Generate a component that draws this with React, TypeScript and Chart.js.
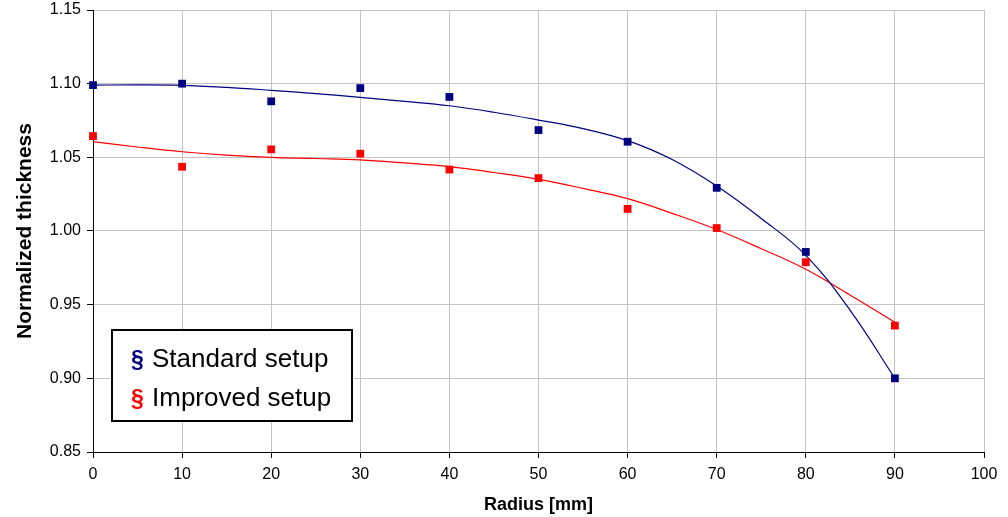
import React, { useEffect, useRef } from "react";
import { Chart, registerables } from "chart.js";

Chart.register(...registerables);

// Measured thickness profiles (radius in mm)
const radius = [0, 10, 20, 30, 40, 50, 60, 70, 80, 90];
const standardMeasured = [1.099, 1.1, 1.088, 1.097, 1.091, 1.0685, 1.0606, 1.0293, 0.9858, 0.9];
const improvedMeasured = [1.0644, 1.0436, 1.0554, 1.0525, 1.0417, 1.0359, 1.015, 1.002, 0.9788, 0.9358];

// Fitted trend curves, sampled every 5 mm
const trendRadius = [0, 5, 10, 15, 20, 25, 30, 35, 40, 45, 50, 55, 60, 65, 70, 75, 80, 85, 90];
const standardTrend = [
  1.099, 1.0992, 1.0989, 1.0975, 1.0955, 1.0933, 1.0907, 1.088, 1.085, 1.0806,
  1.0753, 1.0695, 1.0613, 1.0485, 1.0305, 1.0085, 0.9835, 0.946, 0.9,
];
const improvedTrend = [
  1.0606, 1.057, 1.0538, 1.0515, 1.05, 1.0492, 1.0483, 1.0462, 1.0437, 1.0397,
  1.035, 1.0289, 1.022, 1.012, 1.001, 0.988, 0.974, 0.9564, 0.938,
];

const seriesNames = ["Standard setup", "Improved setup"];
const seriesColors = ["#000080", "#ff0000"];

const xTicks = [0, 10, 20, 30, 40, 50, 60, 70, 80, 90, 100];
const yTicks = [0.85, 0.9, 0.95, 1.0, 1.05, 1.1, 1.15];

const FONT = "'Liberation Sans', Arial, Helvetica, sans-serif";

const pairs = (xs: number[], ys: number[]) => xs.map((x, i) => ({ x, y: ys[i] }));

const boxLegend = {
  id: "boxLegend",
  afterDraw(chart: any) {
    const ctx = chart.ctx as CanvasRenderingContext2D;
    const area = chart.chartArea;
    const left = area.left + 19;
    const top = area.top + 320;
    const w = 240;
    const h = 91;
    ctx.save();
    ctx.fillStyle = "#ffffff";
    ctx.fillRect(left, top, w, h);
    ctx.strokeStyle = "#000000";
    ctx.lineWidth = 2;
    ctx.strokeRect(left, top, w, h);
    ctx.textBaseline = "alphabetic";
    seriesNames.forEach((name, i) => {
      const base = top + 37 + i * 38.5;
      ctx.fillStyle = seriesColors[i];
      ctx.font = `bold 23px ${FONT}`;
      ctx.fillText("§", left + 19, base);
      ctx.fillStyle = "#000000";
      ctx.font = `26px ${FONT}`;
      ctx.fillText(name, left + 40, base);
    });
    ctx.restore();
  },
};

export default function App() {
  const ref = useRef<HTMLCanvasElement | null>(null);

  useEffect(() => {
    if (!ref.current) return;
    const chart = new Chart(ref.current, {
      type: "scatter",
      data: {
        datasets: [
          {
            label: seriesNames[0],
            data: pairs(radius, standardMeasured),
            backgroundColor: seriesColors[0],
            borderColor: seriesColors[0],
            pointStyle: "rect",
            pointRadius: 5.5,
            pointBorderWidth: 0,
            showLine: false,
            clip: false,
          },
          {
            label: seriesNames[1],
            data: pairs(radius, improvedMeasured),
            backgroundColor: seriesColors[1],
            borderColor: seriesColors[1],
            pointStyle: "rect",
            pointRadius: 5.5,
            pointBorderWidth: 0,
            showLine: false,
            clip: false,
          },
          {
            label: seriesNames[0] + " trend",
            data: pairs(trendRadius, standardTrend),
            borderColor: seriesColors[0],
            borderWidth: 1.2,
            pointRadius: 0,
            showLine: true,
            tension: 0.4,
          },
          {
            label: seriesNames[1] + " trend",
            data: pairs(trendRadius, improvedTrend),
            borderColor: seriesColors[1],
            borderWidth: 1.2,
            pointRadius: 0,
            showLine: true,
            tension: 0.4,
          },
        ],
      },
      options: {
        animation: false,
        responsive: true,
        maintainAspectRatio: false,
        layout: { padding: { top: 10, right: 24, left: 0, bottom: 0 } },
        plugins: {
          legend: { display: false },
          tooltip: { enabled: false },
        },
        scales: {
          x: {
            type: "linear",
            min: 0,
            max: 100,
            afterFit: (s: any) => {
              s.height = 65;
              s.paddingLeft = 0;
              s.paddingRight = 0;
            },
            afterBuildTicks: (s: any) => {
              s.ticks = xTicks.map((v) => ({ value: v }));
            },
            ticks: {
              color: "#000",
              font: { family: FONT, size: 16 },
              padding: 7,
              maxRotation: 0,
              callback: (v: any) => String(v),
            },
            grid: {
              color: "#c4c4c4",
              tickColor: "#000",
              tickLength: 6,
              lineWidth: 1,
            },
            border: { color: "#000", width: 1 },
            title: {
              display: true,
              text: "Radius [mm]",
              color: "#000",
              font: { family: FONT, size: 18, weight: "bold" },
              padding: { top: 0, bottom: 1 },
            },
          },
          y: {
            type: "linear",
            min: 0.85,
            max: 1.15,
            afterFit: (s: any) => {
              s.width = 93;
              s.paddingTop = 0;
              s.paddingBottom = 0;
            },
            afterBuildTicks: (s: any) => {
              s.ticks = yTicks.map((v) => ({ value: v }));
            },
            ticks: {
              color: "#000",
              font: { family: FONT, size: 16 },
              padding: 6,
              callback: (v: any) => Number(v).toFixed(2),
            },
            grid: {
              color: "#c4c4c4",
              tickColor: "#000",
              tickLength: 6,
              lineWidth: 1,
            },
            border: { color: "#000", width: 1 },
            title: {
              display: true,
              text: "Normalized thickness",
              color: "#000",
              font: { family: FONT, size: 21, weight: "bold" },
              padding: { top: 13, bottom: 0 },
            },
          },
        },
      },
      plugins: [boxLegend],
    } as any);
    return () => chart.destroy();
  }, []);

  return (
    <div style={{ position: "absolute", left: 0, top: 0, width: 1008, height: 517, background: "#fff" }}>
      <canvas ref={ref} />
    </div>
  );
}
